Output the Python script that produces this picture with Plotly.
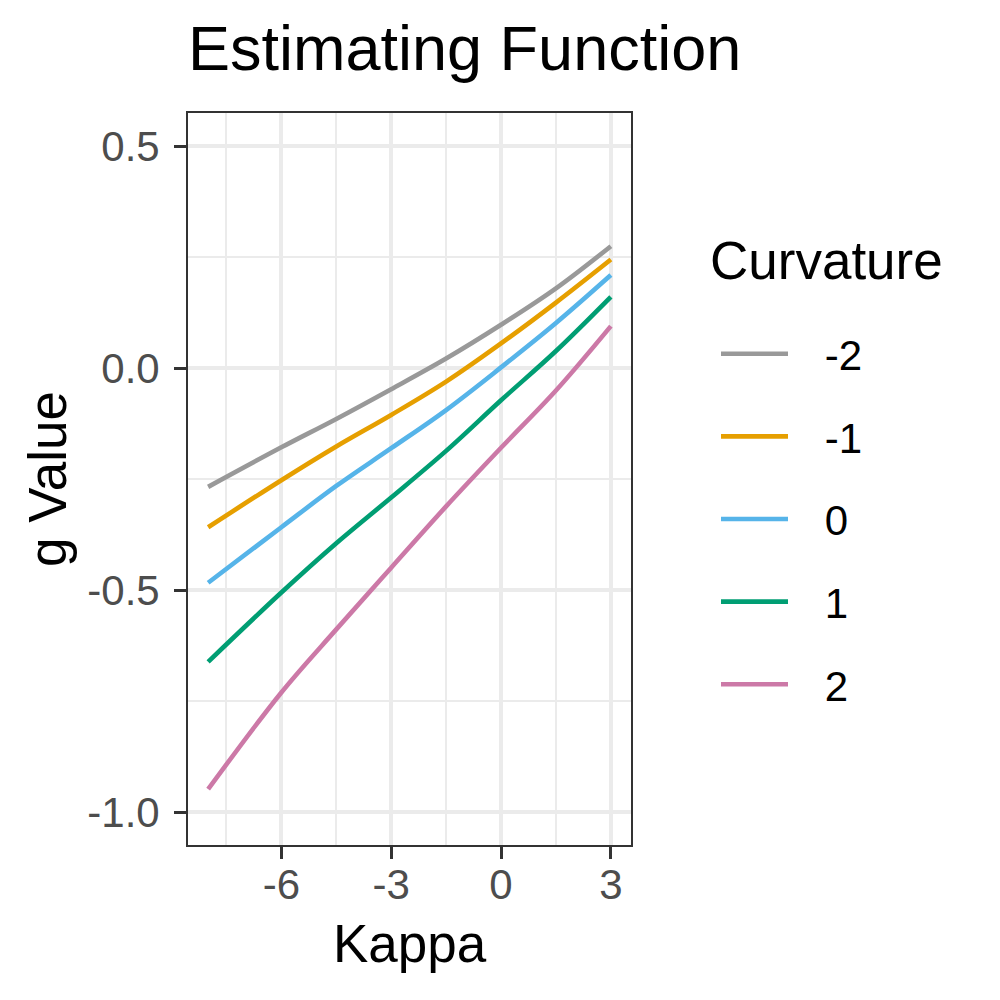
import plotly.graph_objects as go

# ---- data ----
kappa = [-8, -6, -4.5, -3, -1.5, 0, 1.5, 3]
curvature_labels = ["-2", "-1", "0", "1", "2"]
g_curv_m2 = [-0.267, -0.178, -0.114, -0.047, 0.022, 0.098, 0.180, 0.275]
g_curv_m1 = [-0.358, -0.252, -0.176, -0.105, -0.030, 0.056, 0.148, 0.245]
g_curv_0 = [-0.483, -0.358, -0.265, -0.180, -0.094, 0.002, 0.102, 0.210]
g_curv_p1 = [-0.661, -0.505, -0.394, -0.291, -0.186, -0.072, 0.039, 0.161]
g_curv_p2 = [-0.948, -0.730, -0.588, -0.449, -0.311, -0.179, -0.050, 0.095]
series = [g_curv_m2, g_curv_m1, g_curv_0, g_curv_p1, g_curv_p2]
colors = ["#999999", "#E69F00", "#56B4E9", "#009E73", "#CC79A7"]

x_tickvals = [-6, -3, 0, 3]
x_ticktext = ["-6", "-3", "0", "3"]
x_minor = [-7.5, -4.5, -1.5, 1.5]
y_tickvals = [-1.0, -0.5, 0.0, 0.5]
y_ticktext = ["-1.0", "-0.5", "0.0", "0.5"]
y_minor = [-0.75, -0.25, 0.25]

FONT = "Liberation Sans, Arial, Helvetica, sans-serif"
NB = "\u00a0\u00a0\u2009"  # small gap between legend key and label

fig = go.Figure()
for lab, ys, col in zip(curvature_labels, series, colors):
    fig.add_trace(go.Scatter(
        x=kappa, y=ys, mode="lines", name=NB + lab, legendgroup=lab,
        line=dict(color=col, width=4.6, shape="spline", smoothing=1.0),
    ))

axis_common = dict(
    showgrid=True, gridcolor="#EBEBEB", gridwidth=3.6,
    zeroline=False, showline=True, mirror=True,
    linecolor="#333333", linewidth=1.8,
    ticks="outside", ticklen=12, tickwidth=2.8, tickcolor="#333333",
    tickfont=dict(family=FONT, size=42, color="#4D4D4D"),
)

fig.update_layout(
    width=1000, height=1000,
    paper_bgcolor="white", plot_bgcolor="white",
    margin=dict(l=188, r=369, t=113, b=155),
    font=dict(family=FONT, color="black"),
    title=dict(text="Estimating Function", x=0, xref="paper", xanchor="left",
               y=1 - 48 / 1000, yref="container", yanchor="middle",
               font=dict(family=FONT, size=63, color="black")),
    xaxis=dict(
        range=[-8.55, 3.55], tickvals=x_tickvals, ticktext=x_ticktext,
        minor=dict(tickvals=x_minor, showgrid=True, gridcolor="#EBEBEB", gridwidth=2.2, ticks=""),
        ticklabelstandoff=-10,
        **axis_common,
    ),
    yaxis=dict(
        range=[-1.0736, 0.575], tickvals=y_tickvals, ticktext=y_ticktext,
        minor=dict(tickvals=y_minor, showgrid=True, gridcolor="#EBEBEB", gridwidth=2.2, ticks=""),
        title=dict(text="g Value", font=dict(family=FONT, size=53, color="black"), standoff=4),
        ticklabelstandoff=6,
        **axis_common,
    ),
    legend=dict(
        font=dict(family=FONT, size=42, color="black"),
        x=(716 - 188) / 443, xanchor="left", y=1 - (320 - 113) / 732, yanchor="top",
        tracegroupgap=25, itemwidth=67,
        bgcolor="rgba(0,0,0,0)",
    ),
    annotations=[
        dict(text="Curvature", xref="paper", yref="paper",
             x=(708 - 188) / 443, xanchor="left", y=1 - (260 - 113) / 732, yanchor="middle",
             showarrow=False, font=dict(family=FONT, size=53, color="black")),
        dict(text="Kappa", xref="paper", yref="paper",
             x=0.5, xanchor="center", y=(845 - 943) / 732, yanchor="middle",
             showarrow=False, font=dict(family=FONT, size=53, color="black")),
    ],
)

fig.write_html("out.html", config={"displayModeBar": False},
               post_script="document.body.style.margin='0';")
